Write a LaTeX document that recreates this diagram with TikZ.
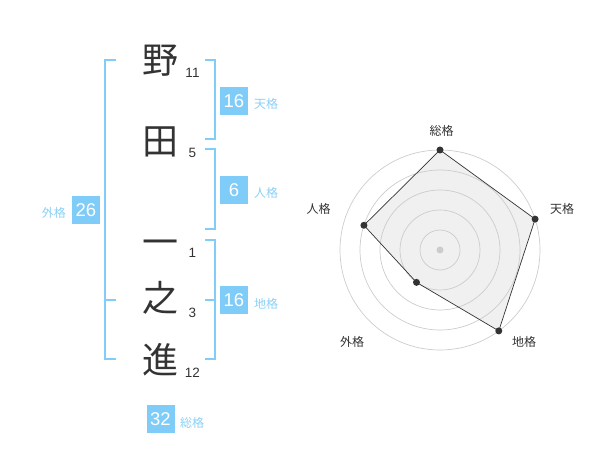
\documentclass[tikz,border=0pt]{standalone}
\usepackage{fontspec}
\usetikzlibrary{calc}
\setmainfont{Liberation Sans}
\newfontfamily\jpfont{Noto Sans CJK JP}
\definecolor{brk}{RGB}{130,204,248}
\definecolor{boxc}{RGB}{128,204,248}
\definecolor{lbl}{RGB}{140,208,245}
\definecolor{ink}{RGB}{51,51,51}
\definecolor{ring}{RGB}{204,204,204}
\definecolor{area}{RGB}{240,240,240}
\tikzset{
  kanji/.style={font=\jpfont\fontsize{36}{36}\selectfont, text=ink, inner sep=0pt, text height=31.7pt, text depth=4.3pt},
  strokes/.style={font=\fontsize{13.5}{14}\selectfont, text=ink, inner sep=0pt},
  valbox/.style={fill=boxc, text=white, minimum width=28pt, minimum height=28pt, inner sep=0pt, font=\fontsize{18.5}{18.5}\selectfont},
  kaku/.style={font=\jpfont\fontsize{12}{12}\selectfont, text=lbl, inner sep=0pt},
  bracket/.style={draw=brk, line width=2pt},
  radlbl/.style={font=\jpfont\fontsize{12}{12}\selectfont, text=ink, inner sep=0pt},
  dot/.style={circle, fill=ink, minimum size=7pt, inner sep=0pt},
}
\begin{document}
\begin{tikzpicture}[x=1pt,y=-1pt]
\useasboundingbox (0,0) rectangle (600,470);
% characters
\node[kanji] (c1) at (160,60) {野};
\node[kanji] (c2) at (160,141) {田};
\node[kanji] (c3) at (160,242) {一};
\node[kanji] (c4) at (160,298) {之};
\node[kanji] (c5) at (160,360) {進};
% stroke counts
\node[strokes] (n1) at (192.5,73) {11};
\node[strokes] (n2) at (192.5,153) {5};
\node[strokes] (n3) at (192.5,253) {1};
\node[strokes] (n4) at (192.5,313) {3};
\node[strokes] (n5) at (192.5,373) {12};
% brackets
\draw[bracket] (116,60) -- (105,60) -- (105,359.5) -- (116,359.5);
\draw[bracket] (105,300) -- (116,300);
\draw[bracket] (205,60) -- (214.5,60) -- (214.5,139.5) -- (205,139.5);
\draw[bracket] (205,149.5) -- (214.5,149.5) -- (214.5,229.5) -- (205,229.5);
\draw[bracket] (205,240) -- (214.5,240) -- (214.5,359.5) -- (205,359.5);
\draw[bracket] (205,300) -- (214.5,300);
% value boxes
\node[valbox] (ten) at (234,101) {16};
\node[kaku, anchor=west] (tenl) at (254,104) {天格};
\node[valbox] (jin) at (234,190) {6};
\node[kaku, anchor=west] (jinl) at (254,193) {人格};
\node[valbox] (chi) at (234,300) {16};
\node[kaku, anchor=west] (chil) at (254,304) {地格};
\node[valbox] (gai) at (86,210.5) {26};
\node[kaku, anchor=east] (gail) at (66,213) {外格};
\node[valbox] (sou) at (160.5,419) {32};
\node[kaku, anchor=west] (soul) at (180,423) {総格};
% radar
\coordinate (O) at (440,250);
\coordinate (p1) at ($(O)+(-90:100)$);
\coordinate (p2) at ($(O)+(-18:100)$);
\coordinate (p3) at ($(O)+(54:100)$);
\coordinate (p4) at ($(O)+(126:40)$);
\coordinate (p5) at ($(O)+(198:80)$);
\fill[area] (p1) -- (p2) -- (p3) -- (p4) -- (p5) -- cycle;
\foreach \r in {20,40,60,80,100} \draw[ring, line width=0.7pt] (O) circle (\r);
\fill[ring] (O) circle (3.5);
\draw[draw=ink, line width=0.7pt] (p1) -- (p2) -- (p3) -- (p4) -- (p5) -- cycle;
\foreach \p in {p1,p2,p3,p4,p5} \node[dot] at (\p) {};
\node[radlbl] (r1) at (441.5,130.5) {総格};
\node[radlbl] (r2) at (562,208.5) {天格};
\node[radlbl] (r3) at (524,341.5) {地格};
\node[radlbl] (r4) at (352,341.5) {外格};
\node[radlbl] (r5) at (318.5,208.5) {人格};
\end{tikzpicture}
\end{document}
